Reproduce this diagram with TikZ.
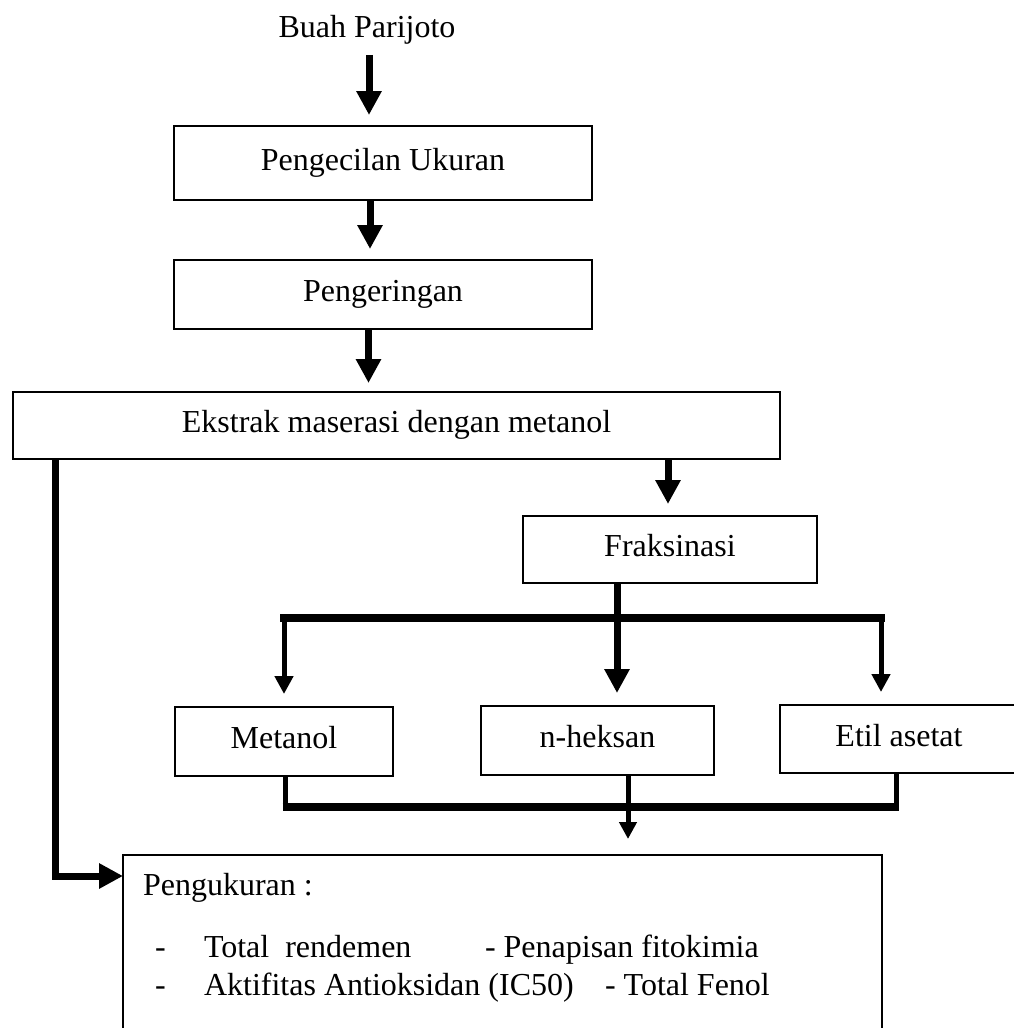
\documentclass[tikz,border=0pt]{standalone}
\usepackage{fontspec}
\setmainfont{Liberation Serif}
\usetikzlibrary{arrows.meta,calc}
\begin{document}
\begin{tikzpicture}[x=1pt,y=-1pt,
  box/.style={draw, line width=2.2pt, inner sep=0pt, outer sep=0pt, text height=22pt, text depth=8pt, font=\fontsize{32pt}{38pt}\selectfont},
  txt/.style={inner sep=0pt, outer sep=0pt, anchor=base west, font=\fontsize{32pt}{38pt}\selectfont},
  bigarrow/.style={line width=7pt, line join=miter, -{Triangle[width=24pt,length=24pt]}},
  midarrow/.style={line width=5pt, -{Triangle[width=18pt,length=18pt]}},
  thinline/.style={line width=5pt},
  barline/.style={line width=8pt},
]
\useasboundingbox (0,0) rectangle (1014,1028);
\clip (0,0) rectangle (1014,1028);

% nodes
\node[txt, anchor=base] (buah) at (367,37) {Buah Parijoto};
\node[box, minimum width=418pt, minimum height=74pt] (b1) at (383,163) {Pengecilan Ukuran};
\node[box, minimum width=418pt, minimum height=69pt] (b2) at (383,294.5) {Pengeringan};
\node[box, minimum width=767pt, minimum height=67pt] (b3) at (396.5,425.5) {Ekstrak maserasi dengan metanol};
\node[box, minimum width=294pt, minimum height=67pt] (fr) at (670,549.5) {Fraksinasi};
\node[box, minimum width=218pt, minimum height=69pt] (me) at (284,741.5) {Metanol};
\node[box, minimum width=233pt, minimum height=69pt] (nh) at (597.5,740.5) {n-heksan};
\node[box, minimum width=238pt, minimum height=68pt] (ea) at (899,739) {Etil asetat};
\node[draw, line width=2.2pt, inner sep=0pt, outer sep=0pt, anchor=north west, minimum width=759pt, minimum height=200pt] (pk) at (123,855) {};

\node[txt] (t0) at (143,895) {Pengukuran :};
\node[txt] (t1) at (155,957) {-};
\node[txt] (t2) at (204,957) {Total\ \ rendemen};
\node[txt] (t3) at (485,957) {- Penapisan fitokimia};
\node[txt] (t4) at (155,995) {-};
\node[txt] (t5) at (204,995) {Aktifitas Antioksidan (IC50)};
\node[txt] (t6) at (605,995) {- Total Fenol};

% main chain
\draw[bigarrow] ([xshift=2pt,yshift=-11pt]buah.south) -- ([xshift=-14pt,yshift=11pt]b1.north);
\draw[bigarrow] ([xshift=-13pt]b1.south) -- ([xshift=-13pt,yshift=11pt]b2.north);
\draw[bigarrow] ([xshift=-14.5pt]b2.south) -- ([xshift=-28pt,yshift=9pt]b3.north);
\draw[bigarrow] ([xshift=271.5pt]b3.south) -- ([xshift=-2pt,yshift=12pt]fr.north);

% fractionation split
\coordinate (bl) at (284,618);
\coordinate (br) at (881,618);
\draw[barline] ([xshift=-4pt]bl) -- ([xshift=4pt]br);
\draw[bigarrow] ([xshift=-53pt]fr.south) -- ([xshift=19.5pt,yshift=13pt]nh.north);
\draw[midarrow] (bl) -- ([yshift=13pt]me.north);
\draw[midarrow] (br) -- ([xshift=-18pt,yshift=13pt]ea.north);

% merge
\coordinate (ql) at (285,807);
\coordinate (qr) at (896,807);
\draw[thinline] ([xshift=1pt]me.south) -- (ql);
\draw[thinline] ([xshift=-3pt]ea.south) -- (qr);
\draw[barline] ([xshift=-2.5pt]ql) -- ([xshift=2.5pt]qr);
\draw[line width=5pt, -{Triangle[width=17pt,length=17pt]}] ([xshift=30.5pt]nh.south) -- ([xshift=125.5pt,yshift=16pt]pk.north);

% left elbow
\draw[bigarrow] ([xshift=-341.5pt]b3.south) |- ([yshift=-21pt]pk.north west);
\end{tikzpicture}
\end{document}
